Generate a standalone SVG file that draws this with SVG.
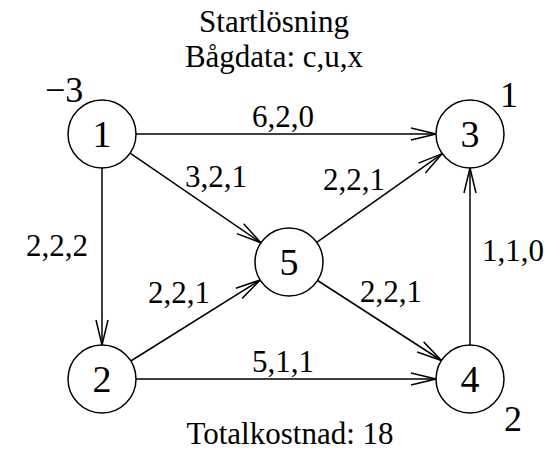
<svg xmlns="http://www.w3.org/2000/svg" width="549" height="452" viewBox="0 0 549 452">
<style>
text{font-family:"Liberation Serif","Times New Roman",serif;fill:#000}
.t{font-size:31px}
.n{font-size:38px;text-anchor:middle}
.b{font-size:36px}
circle{fill:#fff;stroke:#000;stroke-width:1.5}
.e line{stroke:#000;stroke-width:1.5;marker-end:url(#ah)}
</style>
<defs>
<marker id="ah" markerUnits="userSpaceOnUse" markerWidth="30" markerHeight="16" viewBox="-27 -8 30 16" refX="0" refY="0" orient="auto">
<path d="M-25,-6 L0,0 L-25,6" fill="none" stroke="#000" stroke-width="1.5"/>
</marker>
</defs>
<rect width="549" height="452" fill="#fff"/>
<text class="t" x="274" y="32" text-anchor="middle">Startlösning</text>
<text class="t" x="274" y="67" text-anchor="middle">Bågdata: c,u,x</text>
<text class="t" x="290" y="444" text-anchor="middle">Totalkostnad: 18</text>
<g class="e" id="edges">
<line x1="136" y1="134" x2="436" y2="134"/>
<line x1="102" y1="168" x2="102" y2="345"/>
<line x1="136" y1="379" x2="436" y2="379"/>
<line x1="470" y1="345" x2="470" y2="168"/>
<line x1="130.1" y1="153.2" x2="260.9" y2="242.8"/>
<line x1="316.7" y1="242.4" x2="442.3" y2="153.6"/>
<line x1="130.8" y1="361" x2="260.2" y2="280"/>
<line x1="317.6" y1="280.5" x2="441.4" y2="360.5"/>
<text class="t" x="283" y="127" text-anchor="middle">6,2,0</text>
<text class="t" x="283" y="372" text-anchor="middle">5,1,1</text>
<text class="t" x="185" y="187">3,2,1</text>
<text class="t" x="323" y="190">2,2,1</text>
<text class="t" x="210" y="303" text-anchor="end">2,2,1</text>
<text class="t" x="360" y="302">2,2,1</text>
<text class="t" x="482" y="261">1,1,0</text>
<text class="t" x="88" y="256" text-anchor="end">2,2,2</text>
</g>
<g id="n1"><circle cx="102" cy="134" r="34"/><text class="n" x="102" y="147">1</text><text class="b" x="45" y="102">−3</text></g>
<g id="n2"><circle cx="102" cy="379" r="34"/><text class="n" x="102" y="392">2</text></g>
<g id="n3"><circle cx="470" cy="134" r="34"/><text class="n" x="470" y="147">3</text><text class="b" x="500" y="107">1</text></g>
<g id="n4"><circle cx="470" cy="379" r="34"/><text class="n" x="470" y="392">4</text><text class="b" x="504" y="431">2</text></g>
<g id="n5"><circle cx="289" cy="262" r="34"/><text class="n" x="289" y="275">5</text></g>
</svg>
